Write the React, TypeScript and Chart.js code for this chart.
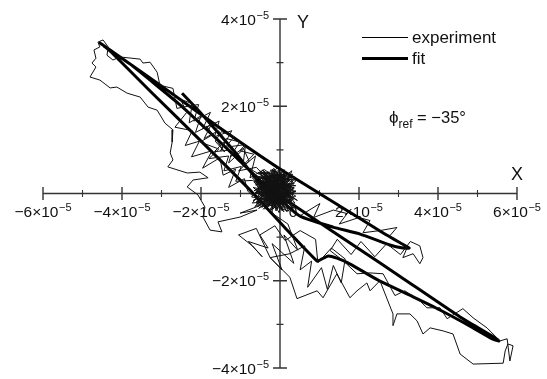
import React, { useEffect, useRef } from "react";
import { Chart, registerables } from "chart.js";

Chart.register(...registerables);

// ---- axis values (units of 10^-5) ----
const X_MIN = -6;
const X_MAX = 6;
const Y_MIN = -4;
const Y_MAX = 4;
const X_MAJOR = [-6, -4, -2, 2, 4, 6];
const X_MINOR = [-5, -3, -1, 1, 3, 5];
const Y_MAJOR = [-4, -2, 2, 4];
const Y_MINOR = [-3, -1, 1, 3];
const X_TICK_LABELS = ["\u22126\u00d710", "\u22124\u00d710", "\u22122\u00d710", "2\u00d710", "4\u00d710", "6\u00d710"];
const Y_TICK_LABELS = ["\u22124\u00d710", "\u22122\u00d710", "2\u00d710", "4\u00d710"];
const TICK_EXPONENT = "\u22125";
const ORIGIN_LABEL = "0";
const X_TITLE = "X";
const Y_TITLE = "Y";
const SERIES_NAMES = ["experiment", "fit"];
const NOTE_MAIN = "\u03d5";
const NOTE_SUB = "ref";
const NOTE_REST = " = \u221235\u00b0";

// ---- experiment (thin trace), x/y in units of 10^-5 ----
const expCoreA: [number, number][] = [
  [-0.18, 0.10], [-0.52, -0.12], [0.10, 0.30], [-0.30, -0.30], [0.22, -0.05], [-0.60, 0.22], [0.00, 0.46], [0.30, -0.22],
  [-0.40, 0.38], [-0.08, -0.36], [0.18, 0.16], [-0.66, -0.02], [-0.12, 0.52], [0.36, 0.02], [-0.34, -0.18], [0.06, 0.40],
  [-0.50, 0.10], [0.26, -0.34], [-0.24, 0.32], [-0.70, -0.22], [0.04, -0.12], [-0.16, 0.44], [0.32, 0.26], [-0.54, -0.34],
  [0.12, 0.04], [-0.42, 0.50], [-0.04, -0.26], [-0.62, 0.34], [0.24, 0.40], [-0.28, -0.02], [0.38, -0.28], [-0.46, 0.20],
  [0.06, -0.40], [-0.20, 0.56], [0.28, 0.10], [-0.64, -0.30], [-0.06, 0.20], [0.16, -0.20], [-0.38, 0.04], [-0.10, 0.36],
];
const expUpperBand: [number, number][] = [
  [-0.40, 0.55], [-0.76, 0.36], [-0.62, 0.86], [-0.94, 0.62], [-0.88, 1.06], [-1.26, 0.84], [-1.02, 1.18], [-1.36, 1.26],
  [-1.50, 0.98], [-1.22, 1.44], [-1.66, 1.30], [-1.54, 1.66], [-1.96, 1.48], [-1.76, 1.86], [-2.18, 1.66], [-2.06, 2.04],
  [-2.46, 1.98], [-2.61, 1.95], [-2.71, 2.41], [-3.04, 2.48], [-3.11, 2.78], [-3.29, 3.01], [-3.47, 2.99], [-3.54, 3.08],
  [-4.05, 3.13], [-4.23, 3.06], [-4.38, 3.17], [-4.35, 3.36], [-4.48, 3.52], [-4.61, 3.47], [-4.56, 3.36], [-4.71, 3.29],
  [-4.66, 3.10], [-4.76, 2.99], [-4.66, 2.90], [-4.81, 2.67], [-4.56, 2.60], [-4.30, 2.42], [-4.13, 2.44], [-3.87, 2.30],
  [-3.54, 2.21], [-3.34, 1.98], [-3.11, 1.91], [-2.91, 1.61], [-2.71, 1.46], [-2.73, 1.18], [-2.78, 0.93], [-2.71, 0.77],
  [-2.84, 0.61], [-2.35, 0.47], [-2.03, 0.49], [-1.82, 0.36], [-2.20, 0.31], [-2.35, 0.15], [-2.08, -0.03], [-1.90, -0.31],
  [-1.95, -0.54], [-1.77, -0.84], [-1.47, -0.88], [-1.57, -0.65], [-1.01, -0.54], [-0.58, -0.38], [-1.01, -0.45],
  [-0.46, -0.26],
];
const expCoreB: [number, number][] = [
  [-0.24, -0.06], [0.20, 0.34], [-0.56, 0.08], [0.08, -0.34], [-0.14, 0.48], [0.34, -0.14], [-0.44, -0.26], [-0.02, 0.24],
  [-0.64, 0.42], [0.28, 0.06], [-0.22, -0.38], [0.14, 0.50], [-0.52, 0.28], [0.40, 0.18], [-0.32, 0.12], [0.06, -0.18],
  [-0.72, -0.08], [-0.06, 0.60], [0.32, -0.32], [-0.44, 0.54], [0.10, 0.14], [-0.60, -0.18], [0.22, -0.40], [-0.18, 0.32],
  [0.38, 0.38], [-0.38, -0.36], [0.02, 0.04], [-0.50, 0.44], [0.44, -0.16], [-0.26, 0.20], [0.18, -0.04], [-0.68, 0.14],
  [-0.08, -0.30], [0.30, 0.52], [-0.46, 0.00], [0.04, 0.38], [-0.32, -0.28], [0.40, 0.06], [-0.12, -0.14], [0.12, 0.54],
];
const expMidBand: [number, number][] = [
  [-0.55, 0.45], [-0.92, 0.66], [-0.66, 0.90], [-1.02, 0.98], [-0.88, 1.12], [-1.38, 1.06], [-1.16, 1.30], [-1.48, 1.42],
  [-1.64, 1.20], [-1.40, 0.95], [-1.86, 1.55], [-1.72, 1.34], [-2.02, 1.18], [-1.55, 1.02], [-1.80, 0.80], [-1.30, 0.86],
  [-1.42, 0.52], [-0.98, 0.62], [-1.12, 0.28], [-0.70, 0.30],
];
const expCoreD: [number, number][] = [
  [-0.05, 0.05], [-0.35, 0.22], [0.15, -0.12], [-0.22, -0.28], [0.28, 0.18], [-0.48, -0.05], [0.02, 0.34], [-0.28, 0.10],
  [0.20, -0.30], [-0.58, 0.16], [-0.10, -0.18], [0.34, 0.30], [-0.40, 0.44], [0.08, -0.02], [-0.30, -0.40], [0.40, -0.06],
  [-0.18, 0.26], [-0.66, 0.06], [0.12, 0.46], [-0.02, -0.44], [-0.52, 0.30], [0.24, 0.06], [-0.26, -0.14], [0.04, 0.22],
  [-0.44, -0.20], [0.30, -0.18], [-0.14, 0.40], [-0.60, -0.10], [0.18, 0.28], [-0.34, 0.02], [0.10, -0.26], [-0.50, 0.48],
  [0.36, 0.12], [-0.20, -0.32], [-0.04, 0.12], [-0.56, -0.30], [0.26, 0.40], [-0.12, -0.06], [-0.42, 0.30], [0.22, -0.14],
  [-0.30, 0.50], [0.00, -0.10], [-0.62, 0.20], [0.14, 0.36], [-0.24, -0.22], [0.38, -0.22], [-0.08, 0.28], [-0.46, 0.08],
  [0.06, -0.36], [-0.36, 0.38],
];
const expLowerRight: [number, number][] = [
  [0.30, -0.40], [0.51, -0.51], [1.01, -0.23], [0.85, -0.55], [1.35, -0.38], [1.70, -0.46], [1.50, -0.70], [2.00, -0.55],
  [2.28, -0.62], [2.10, -0.90], [2.53, -0.85], [2.96, -0.78], [2.78, -0.97], [3.22, -1.24], [3.11, -1.47], [3.37, -1.38],
  [3.54, -1.61], [3.62, -1.47], [3.54, -1.20], [3.30, -1.10], [3.05, -1.40], [2.70, -1.15], [2.40, -1.45], [2.05, -1.10],
  [1.80, -1.40], [1.45, -1.05], [1.27, -1.31], [1.60, -1.54], [1.95, -1.84], [2.28, -1.82], [2.61, -1.84], [2.91, -2.34],
  [3.16, -2.23], [3.54, -2.46], [3.72, -2.62], [4.05, -2.62], [4.23, -2.87], [4.63, -2.64], [4.89, -2.85], [5.24, -3.08],
  [5.57, -3.38], [5.75, -3.33], [5.82, -3.84], [5.90, -3.49], [5.77, -3.45], [5.70, -3.61], [5.65, -3.89], [4.89, -3.91],
  [4.56, -3.68], [4.38, -3.22], [4.13, -3.15], [3.80, -3.08], [3.62, -3.22], [3.47, -2.92], [3.29, -2.76], [2.96, -2.76],
  [2.86, -3.03], [2.86, -2.76], [2.53, -2.00], [2.28, -2.23], [2.20, -2.05], [1.95, -2.23], [1.77, -2.39], [1.44, -1.84],
  [1.09, -2.39], [0.94, -2.23], [0.43, -2.41], [0.25, -1.92], [-0.25, -1.47],
];
const expLowerMid: [number, number][] = [
  [0.25, -1.38], [0.63, -1.20], [0.51, -1.75], [0.80, -1.55], [0.70, -2.15], [1.05, -1.70], [1.20, -2.20], [1.35, -1.65],
  [1.55, -2.05], [1.65, -1.50], [1.30, -1.25], [0.96, -1.59], [0.90, -1.05], [0.51, -0.85], [0.13, -1.08], [-0.13, -0.74],
];
const expLowerLeft: [number, number][] = [
  [-0.51, -0.95], [-0.30, -1.25], [-0.80, -1.10], [-0.45, -1.45], [-0.70, -1.20], [-1.05, -0.95], [-0.60, -0.80],
  [-0.25, -1.47], [0.05, -1.75], [-0.20, -1.15], [0.35, -1.60], [0.10, -0.95], [0.45, -1.30], [0.20, -0.70], [-0.20, -0.45],
];
const expCoreE: [number, number][] = [
  [-0.16, 0.18], [0.12, -0.08], [-0.40, -0.14], [0.24, 0.32], [-0.54, 0.38], [0.00, -0.28], [-0.22, 0.46], [0.32, -0.02],
  [-0.60, -0.24], [0.06, 0.14], [-0.34, 0.26], [0.18, -0.42], [-0.12, 0.02], [-0.48, 0.52], [0.28, -0.26], [-0.26, 0.06],
  [0.10, 0.42], [-0.58, 0.04], [0.36, 0.24], [-0.18, -0.36], [-0.38, 0.16], [0.16, 0.20], [-0.06, -0.20], [-0.64, 0.30],
  [0.22, -0.06], [-0.30, -0.26], [0.04, 0.50], [-0.44, 0.02], [0.40, 0.04], [-0.14, 0.34], [-0.52, -0.14], [0.14, -0.22],
  [-0.24, 0.54], [0.30, 0.36], [-0.42, -0.36], [-0.02, 0.08], [-0.56, 0.24], [0.20, 0.10], [-0.10, -0.40], [-0.32, 0.42],
  [0.34, -0.36], [-0.20, 0.00], [-0.68, -0.16], [0.08, 0.28], [-0.36, -0.04], [0.26, -0.16], [-0.08, 0.44], [-0.50, 0.18],
  [0.10, -0.14], [-0.28, 0.30],
];
const expMidBand2: [number, number][] = [
  [-0.60, 0.60], [-1.05, 0.52], [-0.78, 0.74], [-0.92, 1.02], [-1.30, 0.70], [-1.20, 1.00], [-1.66, 0.96], [-1.38, 1.22],
  [-1.56, 1.44], [-1.92, 1.26], [-1.74, 1.58], [-2.14, 1.40], [-2.00, 1.78], [-2.30, 1.62], [-2.22, 2.06], [-2.52, 2.16],
  [-2.36, 1.86], [-2.66, 1.52], [-2.22, 1.44], [-2.40, 1.10], [-2.04, 1.20], [-2.24, 0.84], [-1.72, 0.98], [-1.96, 0.58],
  [-1.52, 0.82], [-1.44, 0.42], [-1.12, 0.56], [-1.30, 0.14], [-0.90, 0.34], [-0.82, 0.06], [-0.70, -0.05],
];
const expCoreC: [number, number][] = [
  [-0.30, 0.16], [0.14, -0.26], [-0.48, 0.36], [0.26, 0.22], [-0.58, -0.20], [-0.02, 0.52], [0.34, -0.08], [-0.36, -0.10],
  [0.08, 0.30], [-0.66, 0.26], [0.20, -0.36], [-0.20, 0.42], [0.42, 0.30], [-0.46, -0.32], [-0.10, 0.06], [0.30, -0.24],
  [-0.56, 0.48], [0.16, 0.42], [-0.26, -0.24], [0.36, 0.14], [-0.62, 0.02], [0.00, -0.20], [-0.16, 0.58], [0.24, 0.00],
  [-0.40, 0.28], [0.10, -0.42], [-0.70, 0.36], [0.32, 0.44], [-0.08, 0.16],
];

// ---- fit (thick trace) ----
const fitOut: [number, number][] = [
  [-2.48, 2.30], [-2.03, 1.87], [-1.14, 0.95], [-0.46, 0.19], [0.33, -0.26], [1.27, -0.83], [2.03, -1.29],
  [3.04, -1.90], [4.56, -2.83], [5.32, -3.24], [5.54, -3.38],
];
const fitBack: [number, number][] = [
  [5.39, -3.34], [4.81, -3.04], [4.05, -2.67], [3.37, -2.37], [2.53, -2.01], [2.03, -1.75], [1.72, -1.59],
  [1.44, -1.48], [1.22, -1.43], [1.06, -1.50], [0.94, -1.55], [0.13, -0.79], [-0.76, 0.08], [-2.03, 1.23],
  [-3.29, 2.35], [-4.25, 3.22], [-4.48, 3.40], [-4.56, 3.45],
];
const fitLoop: [number, number][] = [
  [-4.41, 3.36], [-3.04, 2.49], [-1.52, 1.50], [0.00, 0.56], [1.52, -0.29], [2.53, -0.86], [3.04, -1.13],
  [3.27, -1.25],
];
const fitEnd: [number, number][] = [
  [3.11, -1.25], [2.78, -1.18], [2.03, -0.93], [1.34, -0.77], [0.51, -0.52], [-0.13, -0.03], [-1.09, 0.81],
  [-2.53, 2.03], [-3.80, 2.97], [-4.46, 3.38],
];

const EXPERIMENT = [
  ...expCoreA, ...expUpperBand, ...expCoreB, ...expMidBand, ...expCoreD, ...expLowerRight, ...expLowerMid,
  ...expLowerLeft, ...expCoreE, ...expMidBand2, ...expCoreC,
];
const FIT = [...fitOut, ...fitBack, ...fitLoop, ...fitEnd];

const FONT = "'Liberation Sans', Arial, Helvetica, sans-serif";
const INK = "#000";
const AXIS_INK = "#333";

function sciLabel(ctx: CanvasRenderingContext2D, base: string, exp: string, x: number, y: number, align: "center" | "right") {
  ctx.font = `15.5px ${FONT}`;
  const wb = ctx.measureText(base).width;
  ctx.font = `11px ${FONT}`;
  const we = ctx.measureText(exp).width;
  const total = wb + we + 0.5;
  const start = align === "center" ? x - total / 2 : x - total;
  ctx.textAlign = "left";
  ctx.textBaseline = "alphabetic";
  ctx.font = `15.5px ${FONT}`;
  ctx.fillText(base, start, y);
  ctx.font = `11px ${FONT}`;
  ctx.fillText(exp, start + wb + 0.5, y - 6);
}

const crossAxes = {
  id: "crossAxes",
  beforeDatasetsDraw(chart: any) {
    const { ctx } = chart;
    const xs = chart.scales.x;
    const ys = chart.scales.y;
    const x0 = xs.getPixelForValue(0);
    const y0 = ys.getPixelForValue(0);
    ctx.save();
    ctx.strokeStyle = AXIS_INK;
    ctx.fillStyle = "#111";
    ctx.lineWidth = 1.4;
    ctx.beginPath();
    ctx.moveTo(xs.getPixelForValue(X_MIN), y0);
    ctx.lineTo(xs.getPixelForValue(X_MAX), y0);
    ctx.moveTo(x0, ys.getPixelForValue(Y_MAX));
    ctx.lineTo(x0, ys.getPixelForValue(Y_MIN));
    for (const v of X_MAJOR) {
      const p = xs.getPixelForValue(v);
      ctx.moveTo(p, y0 - 6.5);
      ctx.lineTo(p, y0 + 6.5);
    }
    for (const v of Y_MAJOR) {
      const p = ys.getPixelForValue(v);
      ctx.moveTo(x0 - 7, p);
      ctx.lineTo(x0 + 7, p);
    }
    ctx.stroke();
    ctx.lineWidth = 1.1;
    ctx.beginPath();
    for (const v of X_MINOR) {
      const p = xs.getPixelForValue(v);
      ctx.moveTo(p, y0 - 3.5);
      ctx.lineTo(p, y0 + 3.5);
    }
    for (const v of Y_MINOR) {
      const p = ys.getPixelForValue(v);
      ctx.moveTo(x0 - 3.5, p);
      ctx.lineTo(x0 + 3.5, p);
    }
    ctx.stroke();

    X_MAJOR.forEach((v, i) => {
      sciLabel(ctx, X_TICK_LABELS[i], TICK_EXPONENT, xs.getPixelForValue(v), y0 + 23.5, "center");
    });
    Y_MAJOR.forEach((v, i) => {
      sciLabel(ctx, Y_TICK_LABELS[i], TICK_EXPONENT, x0 - 11, ys.getPixelForValue(v) + 5.5, "right");
    });
    ctx.font = `15.5px ${FONT}`;
    ctx.textAlign = "center";
    ctx.fillText(ORIGIN_LABEL, x0 + 13, y0 + 23.5);

    ctx.font = `18px ${FONT}`;
    ctx.textAlign = "left";
    ctx.fillText(Y_TITLE, x0 + 17, ys.getPixelForValue(Y_MAX) + 9);
    ctx.textAlign = "center";
    ctx.fillText(X_TITLE, xs.getPixelForValue(X_MAX), y0 - 13.5);
    ctx.restore();
  },
  afterDatasetsDraw(chart: any) {
    const { ctx } = chart;
    const ds = chart.data.datasets;
    ctx.save();
    ctx.strokeStyle = INK;
    ctx.fillStyle = "#111";
    ctx.lineCap = "butt";
    ctx.lineWidth = ds[0].borderWidth;
    ctx.beginPath();
    ctx.moveTo(362, 37.5);
    ctx.lineTo(408, 37.5);
    ctx.stroke();
    ctx.lineWidth = ds[1].borderWidth;
    ctx.beginPath();
    ctx.moveTo(362, 58.5);
    ctx.lineTo(408, 58.5);
    ctx.stroke();
    ctx.font = `17px ${FONT}`;
    ctx.textAlign = "left";
    ctx.textBaseline = "alphabetic";
    ctx.fillText(ds[0].label, 412, 43);
    ctx.fillText(ds[1].label, 412, 64);

    ctx.font = `17px ${FONT}`;
    ctx.fillText(NOTE_MAIN, 389, 123);
    const w1 = ctx.measureText(NOTE_MAIN).width;
    ctx.font = `12px ${FONT}`;
    ctx.fillText(NOTE_SUB, 389 + w1, 128);
    const w2 = ctx.measureText(NOTE_SUB).width;
    ctx.font = `16.5px ${FONT}`;
    ctx.fillText(NOTE_REST, 389 + w1 + w2, 123);
    ctx.restore();
  },
};

export default function App() {
  const ref = useRef<HTMLCanvasElement | null>(null);
  useEffect(() => {
    if (!ref.current) return;
    const chart = new Chart(ref.current, {
      type: "scatter",
      data: {
        datasets: [
          {
            label: SERIES_NAMES[0],
            data: EXPERIMENT.map(([x, y]) => ({ x, y })),
            showLine: true,
            borderColor: "#111",
            borderWidth: 1,
            pointRadius: 0,
            tension: 0,
          },
          {
            label: SERIES_NAMES[1],
            data: FIT.map(([x, y]) => ({ x, y })),
            showLine: true,
            borderColor: INK,
            borderWidth: 3,
            pointRadius: 0,
            tension: 0.15,
            borderJoinStyle: "round",
          },
        ],
      },
      options: {
        animation: false,
        responsive: false,
        maintainAspectRatio: false,
        events: [],
        layout: { padding: { left: 43, right: 30, top: 19, bottom: 11 } },
        scales: {
          x: { type: "linear", min: X_MIN, max: X_MAX, display: false },
          y: { type: "linear", min: Y_MIN, max: Y_MAX, display: false },
        },
        plugins: { legend: { display: false }, tooltip: { enabled: false } },
      },
      plugins: [crossAxes],
    } as any);
    return () => chart.destroy();
  }, []);
  return (
    <div style={{ position: "absolute", left: 0, top: 0, width: 547, height: 379, background: "#fff" }}>
      <canvas ref={ref} width={547} height={379} style={{ width: 547, height: 379 }} />
    </div>
  );
}
